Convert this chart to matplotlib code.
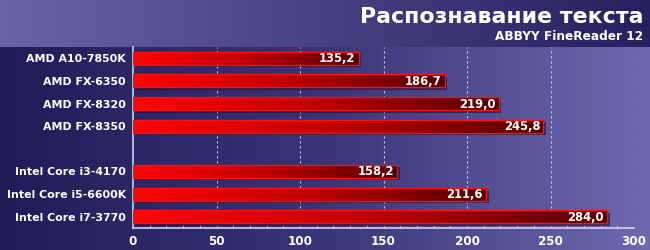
import matplotlib
matplotlib.use("Agg")
import matplotlib.pyplot as plt
import numpy as np
from matplotlib.colors import LinearSegmentedColormap
from matplotlib.patches import Rectangle
from matplotlib import transforms

title = "Распознавание текста"
subtitle = "ABBYY FineReader 12"
categories = ["AMD A10-7850K", "AMD FX-6350", "AMD FX-8320", "AMD FX-8350",
              "", "Intel Core i3-4170", "Intel Core i5-6600K", "Intel Core i7-3770"]
values = [135.2, 186.7, 219.0, 245.8, None, 158.2, 211.6, 284.0]
xticks = [0, 50, 100, 150, 200, 250, 300]

W, H = 650, 250
fig = plt.figure(figsize=(W / 100, H / 100), dpi=100)

# background
bg = fig.add_axes([0, 0, 1, 1])
bg.set_xlim(0, W); bg.set_ylim(H, 0); bg.axis("off")
hdr = LinearSegmentedColormap.from_list("hdr", ["#6a63a8", "#25205e"])
body = LinearSegmentedColormap.from_list("body", ["#211c57", "#3a3479", "#6f69af"])
grad = np.linspace(0, 1, 256).reshape(1, -1)
bg.imshow(grad, cmap=hdr, extent=[0, W, 47, 0], aspect="auto")
bg.imshow(grad, cmap=body, extent=[0, W, H, 47], aspect="auto")
bg.text(643, 17, title, color="white", fontsize=15.8, fontweight="bold",
        ha="right", va="center")
bg.text(643, 36, subtitle, color="white", fontsize=8.7, fontweight="bold",
        ha="right", va="center")

ax = fig.add_axes([133 / W, 1 - 228 / H, (634 - 133) / W, (228 - 47) / H])
ax.patch.set_alpha(0)
ax.set_xlim(0, 300)
ax.set_ylim(len(categories) - 0.5, -0.5)

barcmap = LinearSegmentedColormap.from_list("bar", ["#ff0505", "#c00000", "#520000"])
h = 0.58
shadow_tr = transforms.offset_copy(ax.transData, fig=fig, x=2.5, y=-2.5, units="dots")
for i, (c, v) in enumerate(zip(categories, values)):
    if v is None:
        continue
    ax.add_patch(Rectangle((0, i - h / 2), v, h, transform=shadow_tr,
                           facecolor="#15113f", alpha=0.6, edgecolor="none", zorder=2))
    im = ax.imshow(grad, cmap=barcmap, extent=[0, v, i + h / 2, i - h / 2],
                   aspect="auto", zorder=3, interpolation="bilinear")
    r = Rectangle((0, i - h / 2), v, h, facecolor="none", edgecolor="#ff1010",
                  linewidth=1.0, zorder=4)
    ax.add_patch(r)
    im.set_clip_path(r)
    ax.text(v - 2, i + 0.02, f"{v:.1f}".replace(".", ","), color="white",
            fontsize=8.4, fontweight="bold", ha="right", va="center", zorder=5)

ax.set_xlim(0, 300)
ax.set_ylim(len(categories) - 0.5, -0.5)
ax.set_yticks(range(len(categories)))
ax.set_yticklabels(categories, color="white", fontsize=7.9, fontweight="bold")
ax.tick_params(axis="y", length=0, pad=5)
ax.set_xticks(xticks)
ax.set_xticks(np.arange(0, 301, 10), minor=True)
ax.set_xticklabels([str(t) for t in xticks], color="white", fontsize=8.6, fontweight="bold")
ax.tick_params(axis="x", which="both", direction="in", color="#d0d0e8", pad=5)
ax.tick_params(axis="x", which="major", length=0)
ax.tick_params(axis="x", which="minor", length=2.5)
for t in xticks[1:]:
    ax.axvline(t, color="#c8c8e6", linewidth=0.8, linestyle=(0, (2, 2.5)), zorder=1)
for s in ["top", "right"]:
    ax.spines[s].set_visible(False)
for s in ["bottom", "left"]:
    ax.spines[s].set_color("#d0d0e8")
    ax.spines[s].set_linewidth(1.2)

fig.savefig("out.png", dpi=100)
